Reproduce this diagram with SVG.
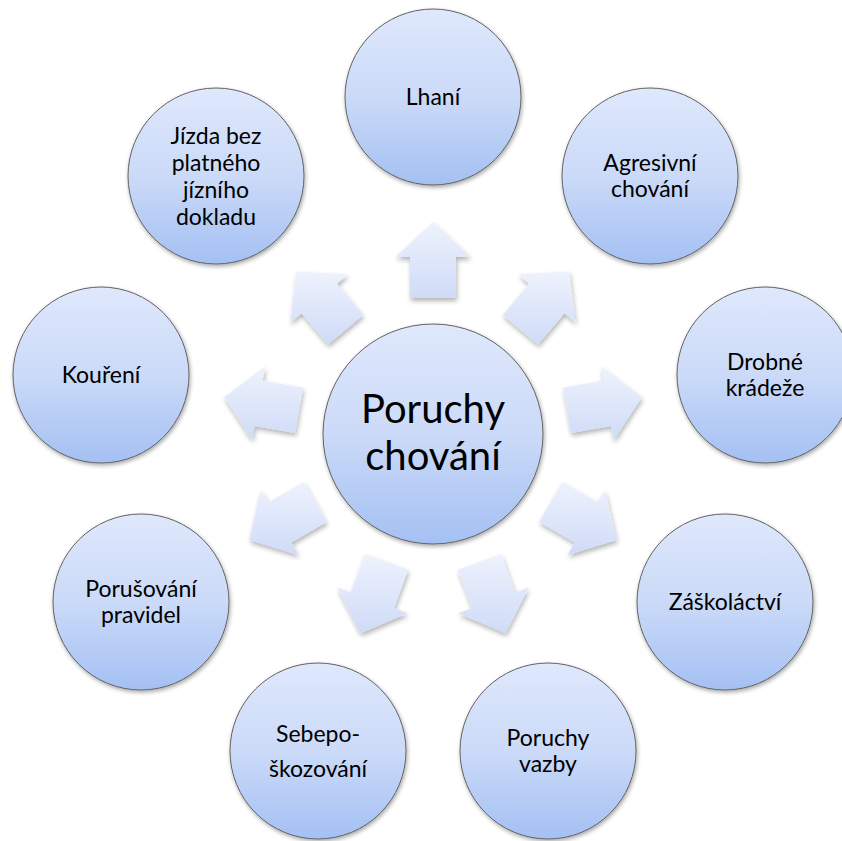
<svg xmlns="http://www.w3.org/2000/svg" width="842" height="841" viewBox="0 0 842 841">
<defs>
<linearGradient id="gCircle" x1="0" y1="0" x2="0" y2="1">
<stop offset="0" stop-color="#dfe8fc"/>
<stop offset="0.5" stop-color="#cbdaf8"/>
<stop offset="1" stop-color="#a4c0f3"/>
</linearGradient>
<linearGradient id="gArrow" x1="0" y1="0" x2="0" y2="1">
<stop offset="0" stop-color="#eef2fd"/>
<stop offset="1" stop-color="#cfdbf7"/>
</linearGradient>
<filter id="shadow" x="-20%" y="-20%" width="140%" height="140%">
<feGaussianBlur in="SourceAlpha" stdDeviation="2"/>
<feOffset dx="1" dy="2" result="b"/>
<feComponentTransfer><feFuncA type="linear" slope="0.35"/></feComponentTransfer>
<feMerge><feMergeNode/><feMergeNode in="SourceGraphic"/></feMerge>
</filter>
<filter id="ashadow" x="-20%" y="-20%" width="140%" height="140%">
<feGaussianBlur in="SourceAlpha" stdDeviation="2.5"/>
<feOffset dx="1" dy="3" result="b"/>
<feComponentTransfer><feFuncA type="linear" slope="0.3"/></feComponentTransfer>
<feMerge><feMergeNode/><feMergeNode in="SourceGraphic"/></feMerge>
</filter>
</defs>
<style>
.c{fill:url(#gCircle);stroke:#626262;stroke-width:1;filter:url(#shadow)}
.a{fill:url(#gArrow);stroke:none;filter:url(#ashadow)}
.t{font-family:Lato,"Open Sans","Liberation Sans",sans-serif;font-size:23px;fill:#000;text-anchor:middle}
.tc{font-family:Lato,"Open Sans","Liberation Sans",sans-serif;font-size:40px;fill:#000;text-anchor:middle}
</style>
<rect width="842" height="841" fill="#ffffff"/>
<g id="connectors">
<polygon class="a" points="410,298 410,257 395.5,257 433,222 470.5,257 456,257 456,298"/>
<polygon class="a" points="502.80,315.04 529.16,283.64 518.05,274.31 569.27,271.61 575.51,322.53 564.40,313.20 538.04,344.60"/>
<polygon class="a" points="562.94,387.74 603.32,380.62 600.80,366.34 641.78,397.20 613.82,440.20 611.30,425.92 570.92,433.04"/>
<polygon class="a" points="562.28,482.08 597.78,502.58 605.03,490.02 616.59,540 567.53,554.98 574.78,542.42 539.28,521.92"/>
<polygon class="a" points="501.12,553.93 515.14,592.46 528.77,587.50 505.51,633.22 458.29,613.16 471.92,608.20 457.90,569.67"/>
<polygon class="a" points="364.88,553.93 350.86,592.46 337.23,587.50 360.49,633.22 407.71,613.16 394.08,608.20 408.10,569.67"/>
<polygon class="a" points="303.72,482.08 268.22,502.58 260.97,490.02 249.41,540 298.47,554.98 291.22,542.42 326.72,521.92"/>
<polygon class="a" points="303.06,387.74 262.68,380.62 265.20,366.34 224.22,397.20 252.18,440.20 254.70,425.92 295.08,433.04"/>
<polygon class="a" points="363.20,315.04 336.84,283.64 347.95,274.31 296.73,271.61 290.49,322.53 301.60,313.20 327.96,344.60"/>
</g>
<g id="node-center">
<circle class="c" cx="433" cy="434" r="110"/>
<text class="tc" x="433" y="423">Poruchy</text>
<text class="tc" x="433" y="470">chování</text>
</g>
<g id="node-lhani">
<circle class="c" cx="433" cy="97" r="88"/>
<text class="t" x="433" y="105">Lhaní</text>
</g>
<g id="node-agresivni">
<circle class="c" cx="650" cy="176" r="88"/>
<text class="t" x="650" y="171">Agresivní</text>
<text class="t" x="650" y="197">chování</text>
</g>
<g id="node-drobne">
<circle class="c" cx="765" cy="375" r="88"/>
<text class="t" x="765" y="370">Drobné</text>
<text class="t" x="765" y="396">krádeže</text>
</g>
<g id="node-zaskolactvi">
<circle class="c" cx="725" cy="602" r="88"/>
<text class="t" x="725" y="610">Záškoláctví</text>
</g>
<g id="node-vazby">
<circle class="c" cx="548" cy="751" r="88"/>
<text class="t" x="548" y="746">Poruchy</text>
<text class="t" x="548" y="772">vazby</text>
</g>
<g id="node-sebepo">
<circle class="c" cx="318" cy="751" r="88"/>
<text class="t" x="318" y="742">Sebepo-</text>
<text class="t" x="318" y="777">škozování</text>
</g>
<g id="node-porusovani">
<circle class="c" cx="141" cy="602" r="88"/>
<text class="t" x="141" y="597">Porušování</text>
<text class="t" x="141" y="623">pravidel</text>
</g>
<g id="node-koureni">
<circle class="c" cx="101" cy="375" r="88"/>
<text class="t" x="101" y="383">Kouření</text>
</g>
<g id="node-jizda">
<circle class="c" cx="216" cy="176" r="88"/>
<text class="t" x="216" y="144">Jízda bez</text>
<text class="t" x="216" y="171">platného</text>
<text class="t" x="216" y="198">jízního</text>
<text class="t" x="216" y="225">dokladu</text>
</g>
</svg>
